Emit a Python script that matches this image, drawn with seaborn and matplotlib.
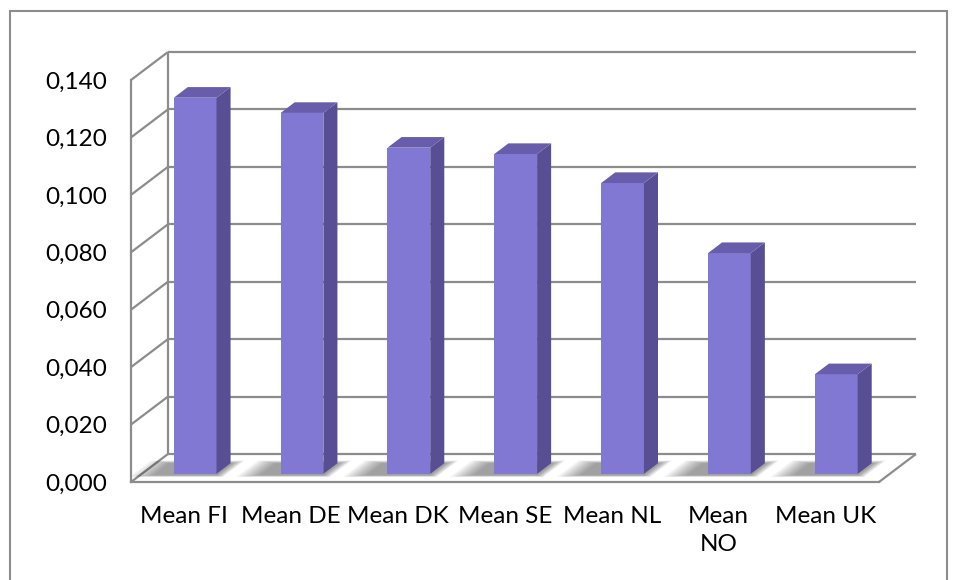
import numpy as np
import pandas as pd
import matplotlib.pyplot as plt
import seaborn as sns
from matplotlib.patches import Polygon, Rectangle
from matplotlib.transforms import Affine2D


# =====================================================
# DATA
# =====================================================

categories = [
    "Mean FI", "Mean DE", "Mean DK", "Mean SE",
    "Mean NL", "Mean\nNO", "Mean UK"
]

values = [0.131, 0.1257, 0.1136, 0.1114, 0.1013, 0.0769, 0.0347]

y_ticks = [0.000, 0.020, 0.040, 0.060, 0.080, 0.100, 0.120, 0.140]
y_labels = [f"{v:.3f}".replace(".", ",") for v in y_ticks]


# =====================================================
# STYLE
# =====================================================

FRONT = "#8078D2"
SIDE = "#574E93"
TOP = "#685DAB"
GRID = "#8C8C8C"

# depth of the fake 3D box, in data units
DX, DY = 0.346, 0.00975

# bars sit this far into the box and are this deep (fractions of box depth)
BAR_T = 0.29
BAR_DEPTH = 0.38

sns.set_style("white")
plt.rcParams["font.family"] = ["Lato", "DejaVu Sans"]

fig = plt.figure(figsize=(9.57, 5.8), dpi=100)

ax = fig.add_axes([
    131 / 957,
    98 / 580,
    (879 - 131) / 957,
    (482 - 80) / 580
])

ax.set_xlim(-0.5, len(categories) - 0.5)
ax.set_ylim(0, 0.14)

x_lo, x_hi = -0.5, len(categories) - 0.5


# -----------------------------------
# Back wall and left wall grid
# -----------------------------------

line_kw = dict(color=GRID, lw=1.6, clip_on=False, zorder=0,
               solid_capstyle="butt")

for v in y_ticks:
    ax.plot([x_lo + DX, x_hi + DX], [v + DY, v + DY], **line_kw)
    ax.plot([x_lo, x_lo + DX], [v, v + DY], **line_kw)

ax.plot([x_lo + DX, x_lo + DX], [DY, y_ticks[-1] + DY], **line_kw)
ax.plot([x_hi, x_hi + DX], [0, DY], **line_kw)


# -----------------------------------
# Bars
# -----------------------------------

df = pd.DataFrame({"category": categories, "value": values})

sns.barplot(
    data=df,
    x="category",
    y="value",
    color=FRONT,
    saturation=1,
    width=0.4,
    ax=ax,
    zorder=3
)

shift = Affine2D().translate(BAR_T * DX, BAR_T * DY) + ax.transData
bdx, bdy = BAR_DEPTH * DX, BAR_DEPTH * DY

for p in list(ax.patches):

    l = p.get_x()
    r = l + p.get_width()
    h = p.get_height()

    p.set_transform(shift)
    p.set_edgecolor("none")
    p.set_clip_on(False)

    # soft shadow on the floor, darkest just left of the bar base
    for e in np.linspace(0.2, 0.0, 12):
        x0, x1 = l - 0.18 - e, r + 0.02 + e * 0.4
        t0, t1 = BAR_T - 0.05 - e * 0.3, BAR_T + BAR_DEPTH + e * 0.5
        pts = [
            (x0 + t0 * DX, t0 * DY),
            (x1 + t0 * DX, t0 * DY),
            (x1 + t1 * DX, t1 * DY),
            (x0 + t1 * DX, t1 * DY),
        ]
        ax.add_patch(Polygon(pts, closed=True, facecolor="black",
                             edgecolor="none", alpha=0.035,
                             clip_on=False, zorder=1))

    side = [(r, 0), (r + bdx, bdy), (r + bdx, h + bdy), (r, h)]
    top = [(l, h), (l + bdx, h + bdy), (r + bdx, h + bdy), (r, h)]

    ax.add_patch(Polygon(side, closed=True, facecolor=SIDE,
                         edgecolor="none", transform=shift,
                         clip_on=False, zorder=3))
    ax.add_patch(Polygon(top, closed=True, facecolor=TOP,
                         edgecolor="none", transform=shift,
                         clip_on=False, zorder=3))


# -----------------------------------
# Axes, ticks, labels
# -----------------------------------

sns.despine(ax=ax, top=True, right=True)

for side_name in ["left", "bottom"]:
    ax.spines[side_name].set_color(GRID)
    ax.spines[side_name].set_linewidth(1.6)

ax.set_yticks(y_ticks)
ax.set_yticklabels(y_labels)

ax.set_xticks(range(len(categories)))
ax.set_xticklabels(categories, linespacing=1.45)
ax.set_xticks(np.arange(x_lo, x_hi + 0.01, 1.0), minor=True)

ax.tick_params(axis="y", length=4.5, width=1.4, color=GRID,
               pad=13, labelsize=17.5, labelcolor="black")
ax.tick_params(axis="x", which="major", length=0, pad=17,
               labelsize=17.5, labelcolor="black")
ax.tick_params(axis="x", which="minor", length=5, width=1.4,
               color=GRID)

ax.set_xlabel("")
ax.set_ylabel("")
ax.grid(False)
ax.patch.set_alpha(0)


# -----------------------------------
# Chart border
# -----------------------------------

fig.add_artist(Rectangle(
    (10 / 957, -0.05),
    (947 - 10) / 957,
    (580 - 11) / 580 + 0.05,
    transform=fig.transFigure,
    fill=False,
    edgecolor=GRID,
    lw=1.5
))

fig.savefig("out.png", dpi=100)
plt.close(fig)
